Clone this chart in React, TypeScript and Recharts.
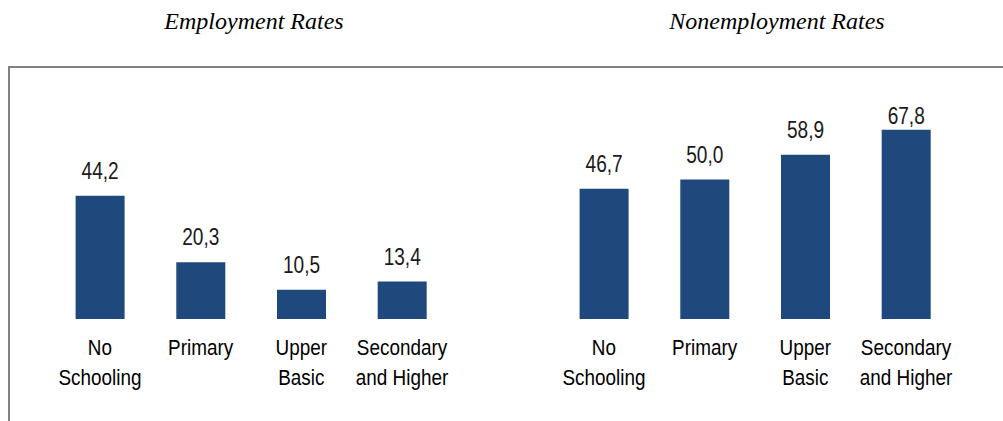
import React from "react";
import { BarChart, Bar, XAxis, YAxis, LabelList } from "recharts";

const categories = ["No\nSchooling", "Primary", "Upper\nBasic", "Secondary\nand Higher"];
const employmentRates = [44.2, 20.3, 10.5, 13.4];
const nonemploymentRates = [46.7, 50.0, 58.9, 67.8];
const titles = ["Employment Rates", "Nonemployment Rates"];

const BAR_COLOR = "#1F487C";
const SANS = "'Liberation Sans', Arial, sans-serif";

const buildData = (values: number[]) =>
  categories.map((c, i) => ({ category: c, value: values[i] }));

const NarrowText = ({ x, y, children, size = 22, squeeze = 0.86, fill = "#000" }: any) => (
  <text
    x={0}
    y={0}
    transform={`translate(${x},${y}) scale(${squeeze},1)`}
    textAnchor="middle"
    fontFamily={SANS}
    fontSize={size}
    fill={fill}
  >
    {children}
  </text>
);

const CategoryTick = (props: any) => {
  const { x, y, payload } = props;
  const lines = String(payload.value).split("\n");
  return (
    <g>
      {lines.map((ln: string, i: number) => (
        <NarrowText key={i} x={x} y={y + 36 + i * 30}>
          {ln}
        </NarrowText>
      ))}
    </g>
  );
};

const fmt = (v: any) => Number(v).toFixed(1).replace(".", ",");

const ValueLabel = (props: any) => {
  const { x, y, width, value } = props;
  const baseline = Math.max(Number(y) - 17, 123.5);
  return (
    <NarrowText x={Number(x) + Number(width) / 2} y={baseline} size={23} squeeze={0.83} fill="#1a1a1a">
      {fmt(value)}
    </NarrowText>
  );
};

const Panel = ({ values, left, margin }: { values: number[]; left: number; margin: any }) => (
  <div style={{ position: "absolute", left, top: 0 }}>
    <BarChart width={503} height={421} data={buildData(values)} margin={margin}>
      <XAxis
        dataKey="category"
        axisLine={false}
        tickLine={false}
        tickSize={0}
        tickMargin={0}
        height={102}
        interval={0}
        tick={<CategoryTick />}
      />
      <YAxis hide domain={[0, 80]} />
      <Bar dataKey="value" fill={BAR_COLOR} barSize={49} isAnimationActive={false}>
        <LabelList dataKey="value" content={<ValueLabel />} />
      </Bar>
    </BarChart>
  </div>
);

export default function App() {
  return (
    <div style={{ position: "absolute", left: 0, top: 0, width: 1003, height: 421, background: "#fff", overflow: "hidden" }}>
      <div
        style={{
          position: "absolute",
          left: 8,
          top: 66,
          width: 1003,
          height: 400,
          borderTop: "2px solid #808080",
          borderLeft: "2px solid #808080",
        }}
      />
      {titles.map((t, i) => (
        <div
          key={t}
          style={{
            position: "absolute",
            left: i === 0 ? 254 - 200 : 777 - 200,
            width: 400,
            top: 6,
            textAlign: "center",
            fontFamily: "'Liberation Serif', 'Times New Roman', serif",
            fontStyle: "italic",
            fontSize: 24,
            lineHeight: "30px",
            color: "#000",
          }}
        >
          {t}
        </div>
      ))}
      <Panel values={employmentRates} left={0} margin={{ top: 95.8, right: 50.6, bottom: 0, left: 49.6 }} />
      <Panel values={nonemploymentRates} left={500} margin={{ top: 95.8, right: 46.6, bottom: 0, left: 53.6 }} />
    </div>
  );
}
